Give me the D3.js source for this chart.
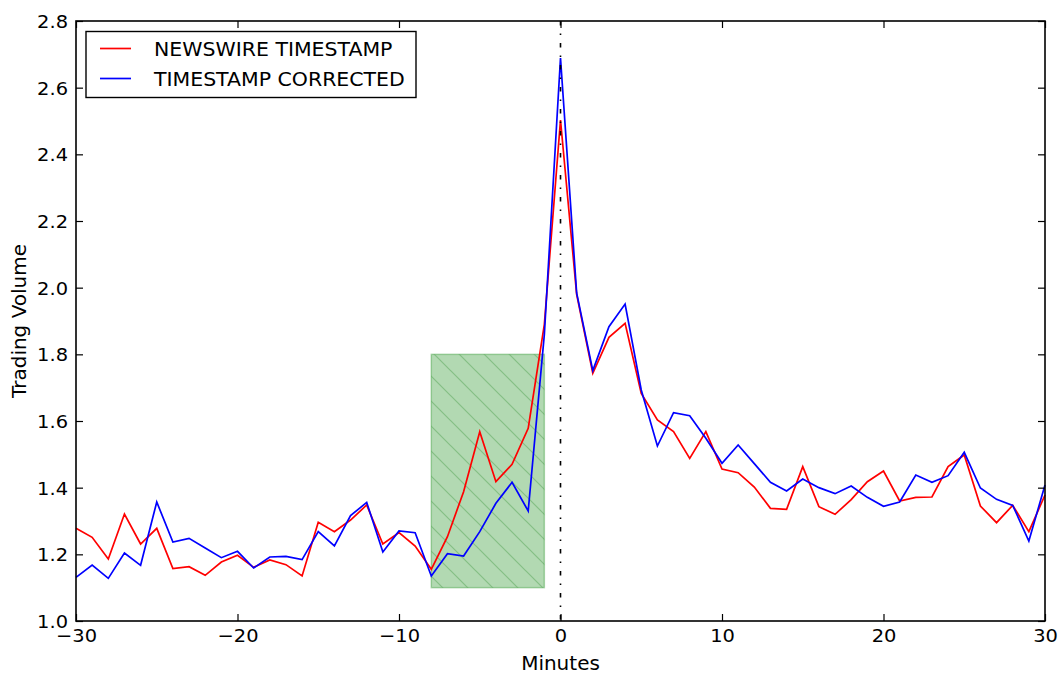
<!DOCTYPE html>
<html>
<head>
<meta charset="utf-8">
<script src="https://cdn.jsdelivr.net/npm/d3@7"></script>
<style>
  body { margin: 0; background: #fff; }
  svg { display: block; font-family: "DejaVu Sans", sans-serif; }
</style>
</head>
<body>
<svg id="chart" width="1061" height="677"></svg>
<script>
// ── Data ────────────────────────────────────────────────────────────────────
const MINUTES = [-30, -29, -28, -27, -26, -25, -24, -23, -22, -21, -20, -19, -18, -17, -16,
    -15, -14, -13, -12, -11, -10, -9, -8, -7, -6, -5, -4, -3, -2, -1, 0,
    1, 2, 3, 4, 5, 6, 7, 8, 9, 10, 11, 12, 13, 14, 15,
    16, 17, 18, 19, 20, 21, 22, 23, 24, 25, 26, 27, 28, 29, 30];

const NEWSWIRE = [1.278, 1.251, 1.186, 1.321, 1.231, 1.278, 1.157, 1.163, 1.137, 1.177,
    1.197, 1.161, 1.183, 1.169, 1.135, 1.296, 1.268, 1.303, 1.348, 1.231,
    1.265, 1.225, 1.155, 1.253, 1.388, 1.568, 1.418, 1.470, 1.578, 1.89,
    2.503,
    1.980, 1.743, 1.851, 1.893, 1.683, 1.603, 1.568, 1.488, 1.568, 1.456,
    1.445, 1.402, 1.338, 1.335, 1.463, 1.343, 1.320, 1.364, 1.418, 1.450,
    1.360, 1.371, 1.372, 1.463, 1.498, 1.345, 1.295, 1.347, 1.268, 1.378];

const CORRECTED = [1.131, 1.168, 1.128, 1.204, 1.167, 1.357, 1.237, 1.248, 1.219, 1.190,
    1.209, 1.159, 1.192, 1.194, 1.184, 1.268, 1.225, 1.316, 1.356, 1.207,
    1.270, 1.265, 1.135, 1.202, 1.195, 1.268, 1.353, 1.416, 1.330, 1.86,
    2.689,
    1.984, 1.751, 1.883, 1.951, 1.693, 1.525, 1.625, 1.616, 1.548, 1.473,
    1.528, 1.472, 1.416, 1.390, 1.426, 1.400, 1.382, 1.405, 1.371, 1.344,
    1.357, 1.438, 1.416, 1.436, 1.506, 1.399, 1.365, 1.347, 1.240, 1.408];

const SERIES = [
    { label: "NEWSWIRE TIMESTAMP",  values: NEWSWIRE,  color: "#ff0000" },
    { label: "TIMESTAMP CORRECTED", values: CORRECTED, color: "#0000ff" },
];

const X_TICKS = [-30, -20, -10, 0, 10, 20, 30];
const Y_TICKS = [1.0, 1.2, 1.4, 1.6, 1.8, 2.0, 2.2, 2.4, 2.6, 2.8];
const WINDOW = { x0: -8, x1: -1, y0: 1.1, y1: 1.8 };

// ── Layout ──────────────────────────────────────────────────────────────────
const W = 1061, H = 677;
const margin = { top: 21, right: 16, bottom: 56, left: 76 };
const innerW = W - margin.left - margin.right;
const innerH = H - margin.top - margin.bottom;

const svg = d3.select("#chart");
const g = svg.append("g").attr("transform", `translate(${margin.left},${margin.top})`);

const x = d3.scaleLinear().domain([-30, 30]).range([0, innerW]);
const y = d3.scaleLinear().domain([1.0, 2.8]).range([innerH, 0]);

// hatch pattern for the shaded window
const defs = svg.append("defs");
const pat = defs.append("pattern")
    .attr("id", "hatch")
    .attr("patternUnits", "userSpaceOnUse")
    .attr("width", 25).attr("height", 25);
pat.append("path")
    .attr("d", "M-5,-5 L30,30 M-5,20 L5,30 M20,-5 L30,5")
    .attr("stroke", "#2e8b2e").attr("stroke-opacity", 0.35).attr("stroke-width", 1.2);

// ── Shaded window ───────────────────────────────────────────────────────────
const rx = x(WINDOW.x0), ry = y(WINDOW.y1);
const rw = x(WINDOW.x1) - x(WINDOW.x0), rh = y(WINDOW.y0) - y(WINDOW.y1);
g.append("rect")
    .attr("x", rx).attr("y", ry).attr("width", rw).attr("height", rh)
    .attr("fill", "#008000").attr("fill-opacity", 0.3)
    .attr("stroke", "#008000").attr("stroke-opacity", 0.3).attr("stroke-width", 1.5);
g.append("rect")
    .attr("x", rx).attr("y", ry).attr("width", rw).attr("height", rh)
    .attr("fill", "url(#hatch)");

// ── Lines ───────────────────────────────────────────────────────────────────
const line = d3.line().x((d, i) => x(MINUTES[i])).y(d => y(d));
SERIES.forEach(s => {
    g.append("path")
        .datum(s.values)
        .attr("fill", "none")
        .attr("stroke", s.color)
        .attr("stroke-width", 1.7)
        .attr("stroke-linejoin", "miter")
        .attr("d", line);
});

// event line at t = 0
g.append("line")
    .attr("x1", x(0)).attr("x2", x(0)).attr("y1", 0).attr("y2", innerH)
    .attr("stroke", "#000").attr("stroke-width", 1.6)
    .attr("stroke-dasharray", "4.5,8,1.5,8");

// ── Axes (ticks inward, all four sides) ─────────────────────────────────────
const fmtX = d => d < 0 ? "\u2212" + Math.abs(d) : String(d);
const axBottom = g.append("g").attr("transform", `translate(0,${innerH})`)
    .call(d3.axisBottom(x).tickValues(X_TICKS).tickFormat(fmtX).tickSizeInner(-7).tickSizeOuter(0).tickPadding(8));
const axLeft = g.append("g")
    .call(d3.axisLeft(y).tickValues(Y_TICKS).tickFormat(d3.format(".1f")).tickSizeInner(-7).tickSizeOuter(0).tickPadding(8));
const axTop = g.append("g")
    .call(d3.axisTop(x).tickValues(X_TICKS).tickFormat("").tickSizeInner(-7).tickSizeOuter(0));
const axRight = g.append("g").attr("transform", `translate(${innerW},0)`)
    .call(d3.axisRight(y).tickValues(Y_TICKS).tickFormat("").tickSizeInner(-7).tickSizeOuter(0));

[axBottom, axLeft, axTop, axRight].forEach(a => {
    a.select(".domain").remove();
    a.selectAll(".tick line").attr("stroke", "#000").attr("stroke-width", 1.2);
    a.selectAll(".tick text").attr("fill", "#000").attr("font-size", 18)
        .attr("font-family", "DejaVu Sans, sans-serif");
});
axBottom.selectAll(".tick text").attr("transform", "scale(1.08,1)");
axLeft.selectAll(".tick text").attr("x", 0).attr("dy", "0.36em")
    .attr("transform", "translate(-8,0) scale(1.08,1)");

// frame
g.append("rect")
    .attr("x", 0).attr("y", 0).attr("width", innerW).attr("height", innerH)
    .attr("fill", "none").attr("stroke", "#000").attr("stroke-width", 1.6);

// axis labels
svg.append("text")
    .attr("x", margin.left + innerW / 2).attr("y", 670)
    .attr("text-anchor", "middle").attr("font-size", 20)
    .text("Minutes");
svg.append("text")
    .attr("transform", `translate(19,${margin.top + innerH / 2}) rotate(-90)`)
    .attr("text-anchor", "middle").attr("dy", "0.35em").attr("font-size", 20)
    .text("Trading Volume");

// ── Legend ──────────────────────────────────────────────────────────────────
const legend = svg.append("g").attr("transform", "translate(86,31.5)");
legend.append("rect")
    .attr("width", 330).attr("height", 66)
    .attr("fill", "#fff").attr("stroke", "#000").attr("stroke-width", 1.4);
SERIES.forEach((s, i) => {
    const ly = 17 + i * 30;
    legend.append("line")
        .attr("x1", 14).attr("x2", 45).attr("y1", ly).attr("y2", ly)
        .attr("stroke", s.color).attr("stroke-width", 1.7);
    legend.append("text")
        .attr("transform", `translate(68,${ly}) scale(1.05,1)`)
        .attr("dy", "0.36em")
        .attr("font-size", 19.5)
        .text(s.label);
});
</script>
</body>
</html>
